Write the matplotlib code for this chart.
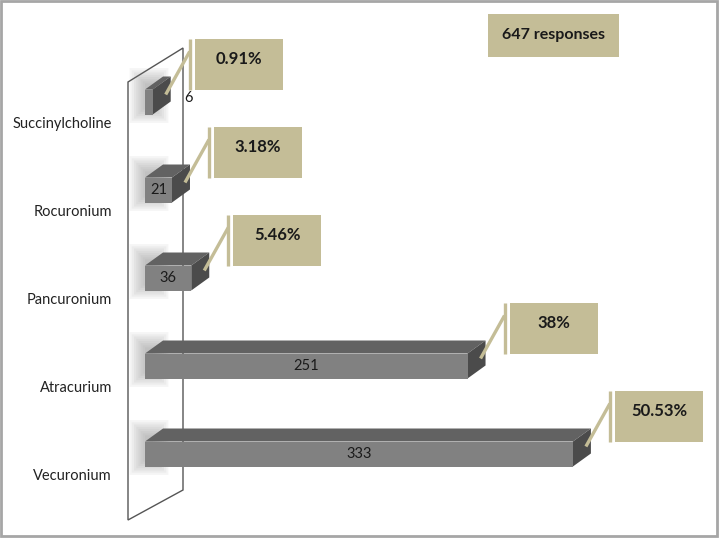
import matplotlib
matplotlib.use("Agg")
import matplotlib.pyplot as plt
from matplotlib.patches import Rectangle, Polygon, FancyBboxPatch

plt.rcParams["font.family"] = ["Lato", "DejaVu Sans"]

# bottom to top
DRUGS = ["Vecuronium", "Atracurium", "Pancuronium", "Rocuronium", "Succinylcholine"]
COUNTS = [333, 251, 36, 21, 6]
PCT_LABELS = ["50.53%", "38%", "5.46%", "3.18%", "0.91%"]
TOTAL = 647

TAN = "#C4BD97"
FRONT = "#818181"
TOP = "#626262"
SIDE = "#4B4B4B"

# pixel scale of the data axes
SX = 1.285   # px per response
SY = 88.0    # px per category


def px(dx: float, dy: float) -> tuple[float, float]:
    """Pixel offset -> data offset (y up)."""
    return dx / SX, dy / SY


fig = plt.figure(figsize=(7.19, 5.38), dpi=100)
ax = fig.add_axes([0, 0, 1, 1])
ax.set_xlim(-145 / SX, (719 - 145) / SX)
ax.set_ylim(-(538 - 454) / SY, 454 / SY)
ax.axis("off")

# back wall
wx0, _ = px(-17, 0)
wx1, _ = px(38, 0)
_, wy_bl = px(0, -66)
_, wy_br = px(0, -36)
_, wy_tr = px(0, 406)
_, wy_tl = px(0, 372)
ax.add_patch(Polygon([(wx0, wy_bl), (wx1, wy_br), (wx1, wy_tr), (wx0, wy_tl)],
                     closed=True, facecolor="white", edgecolor="#555555",
                     linewidth=1.0, zorder=1))

h = 25 / SY
ddx, ddy = px(18, 13)
for i, (name, n, pct) in enumerate(zip(DRUGS, COUNTS, PCT_LABELS)):
    y0 = i - h / 2
    # soft shadow at the wall
    cx, _ = px(4, 0)
    cy = y0 + (h + ddy) / 2
    for k in range(8):
        hw, hh = px(4 + 2.2 * k, 12 + 2.2 * k)
        ax.add_patch(FancyBboxPatch((cx - hw, cy - hh), 2 * hw, 2 * hh,
                                    boxstyle="round,pad=0,rounding_size=0.04",
                                    mutation_aspect=SX / SY * 4,
                                    facecolor="#7a7a7a", edgecolor="none",
                                    alpha=0.07, zorder=2))
    # top face
    ax.add_patch(Polygon([(0, y0 + h), (n, y0 + h), (n + ddx, y0 + h + ddy),
                          (ddx, y0 + h + ddy)], closed=True,
                         facecolor=TOP, edgecolor="none", zorder=3))
    # side face
    ax.add_patch(Polygon([(n, y0), (n + ddx, y0 + ddy), (n + ddx, y0 + h + ddy),
                          (n, y0 + h)], closed=True,
                         facecolor=SIDE, edgecolor="none", zorder=3))
    # front face
    ax.add_patch(Rectangle((0, y0), n, h, facecolor=FRONT,
                           edgecolor="none", zorder=4))

    # value label
    if n >= 10:
        ax.text(n / 2, i, str(n), ha="center", va="center",
                fontsize=10.5, color="#1a1a1a", zorder=5)
    else:
        ax.text(n + ddx + px(14, 0)[0], i + px(0, 4)[1], str(n),
                ha="left", va="center", fontsize=10.5, color="#1a1a1a",
                zorder=5)

    # category label
    ax.text(px(-33, 0)[0], i - px(0, 22)[1], name, ha="right",
            va="center", fontsize=10.5, color="#222222")

    # callout box
    bx = n + px(42, 0)[0]
    bw, bh = px(88, 51)
    ax.add_patch(Rectangle((bx, y0 + h), bw, bh, facecolor=TAN,
                           edgecolor="none", zorder=3))
    vx = bx - px(5, 0)[0]
    ax.plot([vx, vx], [y0 + h, y0 + h + bh], color=TAN, linewidth=2.4,
            solid_capstyle="butt", zorder=3)
    ax.plot([n + px(13, 0)[0], vx], [y0 + h - px(0, 5)[1],
                                     y0 + h + bh - px(0, 13)[1]],
            color=TAN, linewidth=2.4, solid_capstyle="butt", zorder=6)
    ax.text(bx + bw / 2, y0 + h + bh - px(0, 20)[1], pct, ha="center",
            va="center", fontsize=12, fontweight="bold", color="#1a1a1a",
            zorder=6)

# total responses box
tx, ty = (488 - 145) / SX, (454 - 57) / SY
tw, th = px(131, 43)
ax.add_patch(Rectangle((tx, ty), tw, th, facecolor=TAN, edgecolor="none"))
ax.text(tx + tw / 2, ty + th / 2, f"{TOTAL} responses", ha="center",
        va="center", fontsize=11.5, fontweight="bold", color="#1a1a1a")

# outer frame
fig.add_artist(Rectangle((1 / 719, 2 / 538), 716 / 719, 535 / 538,
                         transform=fig.transFigure, facecolor="none",
                         edgecolor="#A6A6A6", linewidth=2))

fig.savefig("out.png", dpi=100)
